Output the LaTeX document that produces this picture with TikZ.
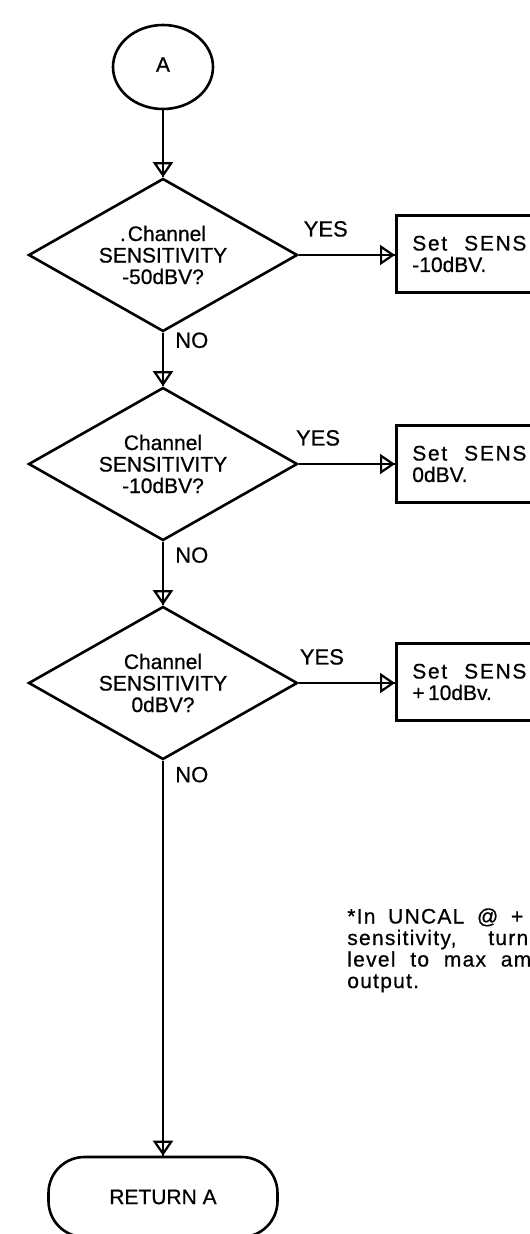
\documentclass[tikz,border=0pt]{standalone}
\usepackage{fontspec}
\setmainfont{Liberation Sans}[FakeBold=0.6]
\usepackage{tikz}
\usetikzlibrary{arrows.meta,shapes.geometric}

\begin{document}
\begin{tikzpicture}[x=1pt, y=-1pt, line width=2.6pt,
  >={Triangle[open, width=20pt, length=15pt, line width=2.2pt]},
  every node/.style={font=\fontsize{21}{21.5}\selectfont},
  test/.style={diamond, draw, aspect=1.74, minimum width=269pt, minimum height=153pt, inner sep=0pt, align=center},
  act/.style={draw, anchor=west, minimum width=300pt, minimum height=77pt, text width=268pt, inner xsep=15pt, align=left},
  lbl/.style={inner sep=0pt, font=\fontsize{22}{22}\selectfont},
  flow/.style={->, postaction={draw, -}}]
  \useasboundingbox (0,0) rectangle (530,1234);
  \clip (0,0) rectangle (530,1234);

  \node [draw, ellipse, minimum width=100pt, minimum height=84pt, inner sep=0pt] (A) at (163,67) {\raisebox{5pt}{A}};
  \node [test] (d1) at (163,255) {.\kern2pt Channel\\SENSITIVITY\\-50dBV?};
  \node [test] (d2) at (163,464) {Channel\\SENSITIVITY\\-10dBV?};
  \node [test] (d3) at (163,683) {Channel\\SENSITIVITY\\0dBV?};

  \node [act] (s1) at (395,254) {{\addfontfeatures{LetterSpace=8}Set\hspace{17pt}SENS}\\-10dBV.};
  \node [act] (s2) at (395,464) {{\addfontfeatures{LetterSpace=8}Set\hspace{17pt}SENS}\\0dBV.};
  \node [act] (s3) at (395,682) {{\addfontfeatures{LetterSpace=8}Set\hspace{17pt}SENS}\\+\,10dBv.};

  \node [draw, rounded corners=36pt, minimum width=229pt, minimum height=80pt] (ret) at (163,1197) {RETURN A};

  \node [anchor=north west, align=left, inner sep=0pt, font=\fontsize{21}{21.5}\selectfont\addfontfeatures{LetterSpace=6}] (note) at (346,907)
    {\makebox[176pt][s]{*In UNCAL @ +}\\
     \makebox[181pt][s]{sensitivity, turn}\\
     \makebox[184pt][s]{level to max am}\\
     output.};

  \draw [flow] (A) -- (d1);
  \draw [flow] (d1) -- node[lbl, right=11pt, pos=.14] (no1) {NO} (d2);
  \draw [flow] (d2) -- node[lbl, right=11pt, pos=.21] (no2) {NO} (d3);
  \draw [flow] (d3) -- node[lbl, right=11pt, pos=.035] (no3) {NO} (ret);

  \draw [flow] (d1.east) -- node[lbl, above=17pt, pos=.28] (yes1) {YES} (s1.west |- d1.east);
  \draw [flow] (d2.east) -- node[lbl, above=17pt, pos=.2] (yes2) {YES} (s2.west |- d2.east);
  \draw [flow] (d3.east) -- node[lbl, above=17pt, pos=.24] (yes3) {YES} (s3.west |- d3.east);
\end{tikzpicture}
\end{document}
